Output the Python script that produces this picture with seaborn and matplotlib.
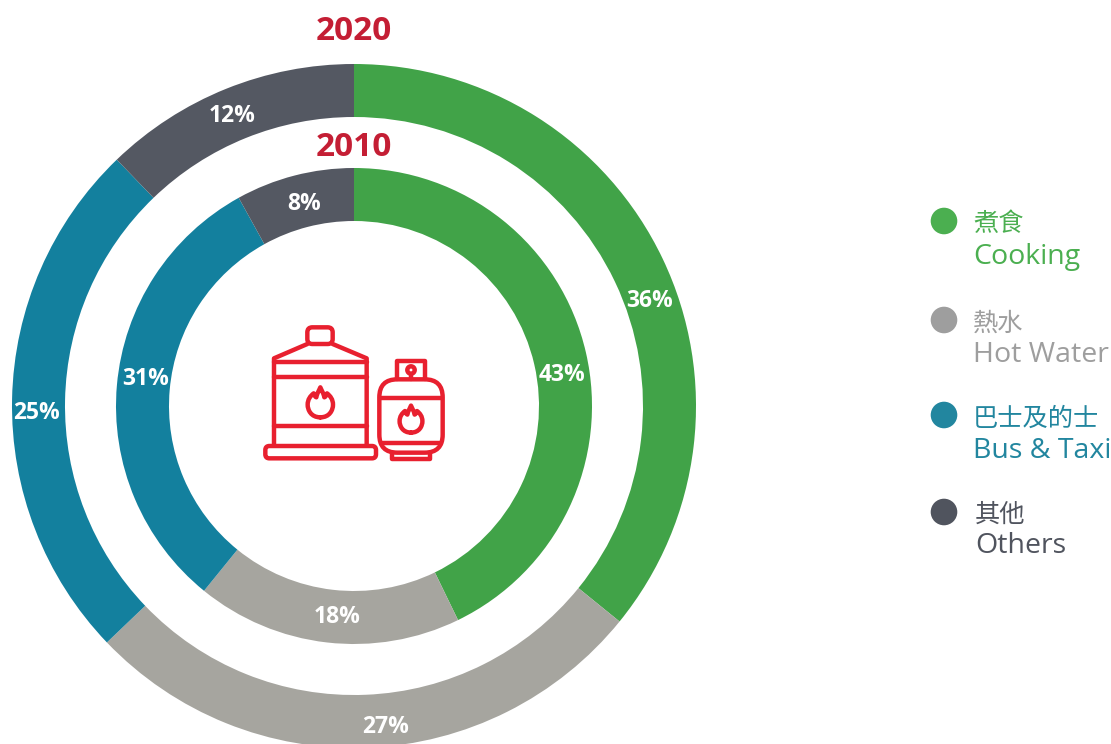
import numpy as np
import matplotlib
matplotlib.use("Agg")
import matplotlib.pyplot as plt
from matplotlib.patches import PathPatch, FancyBboxPatch, Circle
from matplotlib.path import Path
import seaborn as sns

categories_zh = ["煮食", "熱水", "巴士及的士", "其他"]
categories_en = ["Cooking", "Hot Water", "Bus & Taxi", "Others"]
labels_2020 = [36, 27, 25, 12]
labels_2010 = [43, 18, 31, 8]
shares_2020 = [35.85, 27.0, 24.95, 12.2]
shares_2010 = [42.8, 18.05, 31.1, 8.05]
years = ["2020", "2010"]

ring_colors = sns.color_palette(["#41A348", "#A6A59F", "#13809E", "#545862"])
legend_colors = ["#4BAF50", "#9E9E9E", "#22869F", "#50545E"]
title_color = "#C41E34"
icon_color = "#E8202F"

sns.set_theme(style="white")
plt.rcParams["font.family"] = ["Open Sans", "Noto Sans CJK TC", "DejaVu Sans"]

W, H = 1111, 744
fig = plt.figure(figsize=(W / 100, H / 100), dpi=100)
ax = fig.add_axes([0, 0, 1, 1])
cx, cy = 354, H - 406


def rings(shares, labels, radius, width, label_rs, offsets):
    ax.pie(shares, colors=ring_colors, startangle=90, counterclock=False,
           radius=radius, center=(cx, cy), frame=True,
           wedgeprops=dict(width=width, linewidth=0))
    edges = np.cumsum([0] + shares)
    for v, a, b, r, off in zip(labels, edges[:-1], edges[1:], label_rs, offsets):
        ang = np.deg2rad((a + b) / 2 * 3.6 + off)
        ax.text(cx + r * np.sin(ang), cy + r * np.cos(ang), f"{v}%",
                ha="center", va="center", color="white", fontsize=16.5,
                fontweight="bold")


rings(shares_2020, labels_2020, 342, 53, [314, 323, 318, 315], [5.9, -3.2, -2.4, -0.8])
rings(shares_2010, labels_2010, 238, 53, [210, 212, 210, 208], [4.4, -2, 2.3, 0.6])

ax.text(cx, H - 32, years[0], ha="center", va="center", color=title_color,
        fontsize=24, fontweight="bold")
ax.text(cx, H - 148, years[1], ha="center", va="center", color=title_color,
        fontsize=24, fontweight="bold")

# legend
for zh, en, col, y0, y1, y2, tx in zip(categories_zh, categories_en, legend_colors,
                                        [221, 320, 415, 512], [225, 324, 419, 515],
                                        [257, 355, 451, 546], [973, 973, 973, 975]):
    ax.add_patch(Circle((944, H - y0), 13.3, color=col, lw=0))
    ax.text(tx, H - y1, zh, ha="left", va="center", color=col, fontsize=18.2)
    ax.text(tx, H - y2, en, ha="left", va="center", color=col, fontsize=20.5)


# icon, authored in a local grid
def P(x, y):
    return 250 + x / 3, H - (310 + y / 3)


lw = 3.2
kw = dict(fill=False, edgecolor=icon_color, linewidth=lw, joinstyle="round", capstyle="round")


def poly(pts):
    v = [P(*p) for p in pts]
    codes = [Path.MOVETO] + [Path.LINETO] * (len(v) - 1)
    ax.add_patch(PathPatch(Path(v, codes), **kw))


def rrect(x0, y0, x1, y1, r):
    a, b = P(x0, y1), P(x1, y0)
    ax.add_patch(FancyBboxPatch((a[0] + r, a[1] + r), b[0] - a[0] - 2 * r, b[1] - a[1] - 2 * r,
                                boxstyle=f"round,pad={r},rounding_size={r}", **kw))


def flame(x, y, s):
    pts = [(0, 42), (-28, 42), (-38, 20), (-38, 4), (-38, -12), (-30, -22), (-20, -30),
           (-18, -24), (-16, -20), (-12, -18), (-10, -30), (-4, -38), (0, -48),
           (4, -38), (10, -30), (12, -18), (16, -20), (18, -24), (20, -30),
           (30, -22), (38, -12), (38, 4), (38, 20), (28, 42), (0, 42)]
    v = [P(x + s * a, y + s * b) for a, b in pts]
    codes = [Path.MOVETO] + [Path.CURVE4] * (len(v) - 1)
    ax.add_patch(PathPatch(Path(v, codes), **kw))


# large tank
rrect(172, 52, 248, 102, 5)
poly([(172, 102), (72, 145), (72, 405)])
poly([(248, 102), (350, 145), (350, 405)])
poly([(72, 157), (350, 157)])
poly([(72, 202), (350, 202)])
poly([(72, 347), (350, 347)])
rrect(46, 408, 378, 445, 4)
flame(211, 280, 1.0)
# small tank
poly([(442, 208), (442, 152), (524, 152), (524, 208)])
ax.add_patch(Circle(P(483, 180), 3.7, **kw))
poly([(483, 192), (483, 208)])
rrect(388, 208, 578, 428, 18)
poly([(392, 265), (574, 265)])
poly([(392, 398), (574, 398)])
poly([(425, 430), (425, 448), (540, 448), (540, 430)])
flame(483, 330, 0.9)

ax.set_xlim(0, W)
ax.set_ylim(0, H)
ax.set_aspect("equal")
ax.axis("off")
fig.savefig("out.png", dpi=100, facecolor="white")
